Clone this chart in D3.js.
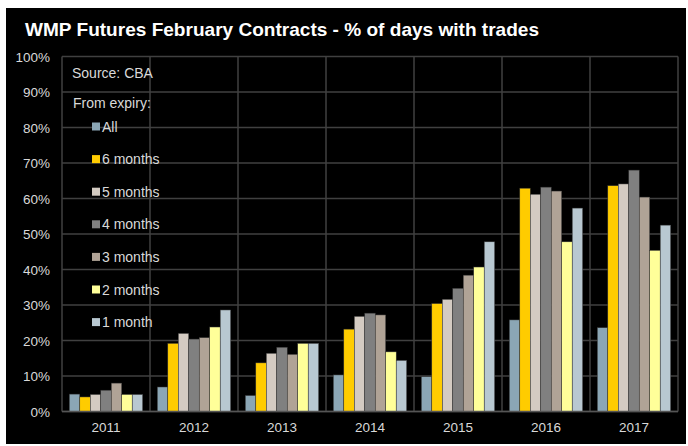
<!DOCTYPE html>
<html><head><meta charset="utf-8">
<script src="https://cdn.jsdelivr.net/npm/d3@7"></script>
<style>html,body{margin:0;padding:0;background:#fff;}svg{display:block;font-family:Arial,"Liberation Sans",sans-serif;}</style>
</head><body><svg id="c" width="688" height="446"></svg>
<script>
const years = ["2011","2012","2013","2014","2015","2016","2017"];
const seriesNames = ["All","6 months","5 months","4 months","3 months","2 months","1 month"];
const seriesColors = ["#8BA6B5","#FFCC00","#D4CBC2","#808080","#B0A396","#FFFF99","#B8C8D1"];
const sAll   = [4.9, 6.9, 4.5, 10.3, 9.8, 25.8, 23.6];
const s6m    = [4.1, 19.2, 13.7, 23.2, 30.4, 62.9, 63.6];
const s5m    = [4.8, 22.0, 16.4, 26.8, 31.6, 61.2, 64.1];
const s4m    = [6.0, 20.4, 18.1, 27.7, 34.7, 63.2, 68.0];
const s3m    = [8.0, 20.8, 16.1, 27.2, 38.4, 62.1, 60.4];
const s2m    = [4.8, 23.8, 19.2, 16.8, 40.7, 47.8, 45.4];
const s1m    = [4.8, 28.6, 19.2, 14.4, 47.8, 57.3, 52.5];
const yTicks = [0,10,20,30,40,50,60,70,80,90,100];
const seriesVals = [sAll,s6m,s5m,s4m,s3m,s2m,s1m];

const svg = d3.select("#c");
svg.append("rect").attr("x",6).attr("y",8).attr("width",680).attr("height",436).attr("fill","#000");
svg.append("text").attr("x",25).attr("y",36).attr("fill","#fff").attr("font-size",19).attr("font-weight","bold")
  .attr("textLength",514).attr("lengthAdjust","spacingAndGlyphs")
  .text("WMP Futures February Contracts - % of days with trades");

const L=62,R=678,T=56.5,B=411.5;
const x = d3.scaleBand().domain(years).range([L,R]).paddingInner(0.166).paddingOuter(0.083);
const x0 = d3.scaleBand().domain(years).range([L,R]);
const xs = d3.scaleBand().domain(seriesNames).range([0,x.bandwidth()]);
const y = d3.scaleLinear().domain([0,100]).range([B,T]);

// grid
const g = svg.append("g");
g.selectAll("line.h").data(yTicks).join("line").attr("x1",L).attr("x2",R)
  .attr("y1",d=>y(d)).attr("y2",d=>y(d)).attr("stroke","#404040").attr("stroke-width",1.5);
g.selectAll("line.v").data(years.slice(1).concat(["end"])).join("line")
  .attr("x1",(d,i)=> i<years.length-1 ? x0(d) : R).attr("x2",(d,i)=> i<years.length-1 ? x0(d) : R)
  .attr("y1",T).attr("y2",B).attr("stroke","#404040").attr("stroke-width",1.5);
g.append("line").attr("x1",L).attr("x2",L).attr("y1",T).attr("y2",B).attr("stroke","#404040").attr("stroke-width",1.5);

// legend box text
svg.append("text").attr("x",72).attr("y",78).attr("fill","#d9d9d9").attr("font-size",14).text("Source: CBA");
svg.append("text").attr("x",73).attr("y",108).attr("fill","#d9d9d9").attr("font-size",14).text("From expiry:");
const leg = svg.append("g").selectAll("g").data(seriesNames).join("g")
  .attr("transform",(d,i)=>`translate(92,${126.5+i*32.6})`);
leg.append("rect").attr("x",0).attr("y",-4).attr("width",8).attr("height",8).attr("fill",(d,i)=>seriesColors[i]);
leg.append("text").attr("x",10).attr("y",5).attr("fill","#d9d9d9").attr("font-size",14).text(d=>d);

// bars
const groups = svg.append("g").selectAll("g").data(years).join("g").attr("transform",d=>`translate(${x(d)},0)`);
groups.selectAll("rect").data((yr,yi)=>seriesNames.map((s,si)=>({s,si,v:seriesVals[si][yi]}))).join("rect")
  .attr("x",d=>xs(d.s)).attr("width",xs.bandwidth()).attr("y",d=>y(d.v)).attr("height",d=>B-y(d.v))
  .attr("fill",d=>seriesColors[d.si]).attr("stroke","#333").attr("stroke-width",0.5);

// axes
svg.append("g").selectAll("text").data(yTicks).join("text").attr("x",50).attr("y",d=>y(d)+5)
  .attr("text-anchor","end").attr("fill","#d9d9d9").attr("font-size",13.5).text(d=>d+"%");
svg.append("line").attr("x1",L).attr("x2",R).attr("y1",B).attr("y2",B).attr("stroke","#555").attr("stroke-width",1.5);
svg.append("g").selectAll("text").data(years).join("text").attr("x",d=>x0(d)+x0.bandwidth()/2).attr("y",432)
  .attr("text-anchor","middle").attr("fill","#d9d9d9").attr("font-size",13.5).text(d=>d);
</script></body></html>
